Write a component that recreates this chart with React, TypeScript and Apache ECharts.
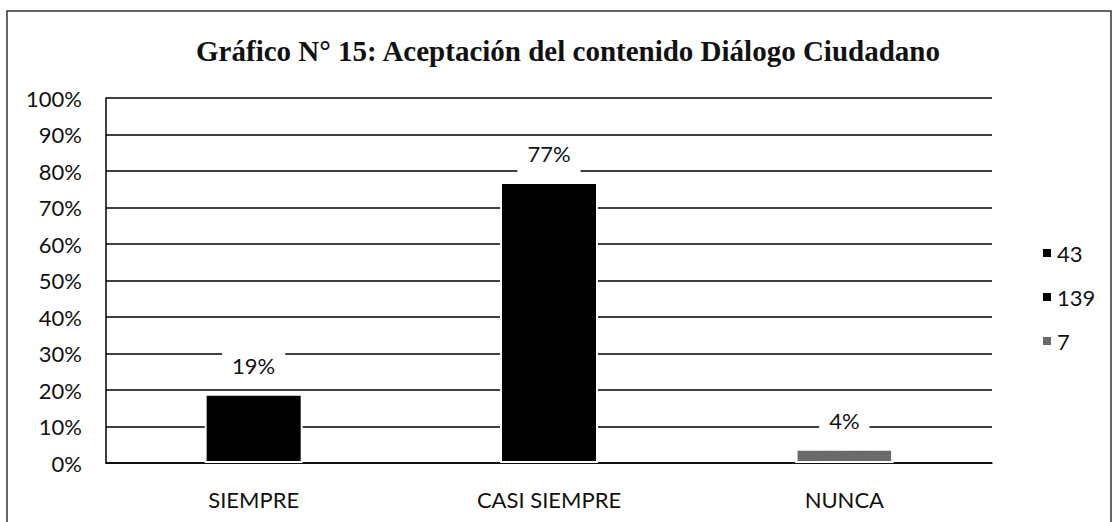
import React, { useEffect, useRef } from "react";
import * as echarts from "echarts";

const categories = ["SIEMPRE", "CASI SIEMPRE", "NUNCA"];
const seriesNames = ["43", "139", "7"];
const percentValues = [19, 77, 4];
const yTicks = [0, 10, 20, 30, 40, 50, 60, 70, 80, 90, 100];
const title = "Gráfico N° 15: Aceptación del contenido Diálogo Ciudadano";

export default function App() {
  const ref = useRef<HTMLDivElement>(null);
  useEffect(() => {
    if (!ref.current) return;
    const chart = echarts.init(ref.current, null, { renderer: "svg" });
    const colors = ["#000000", "#000000", "#666666"];
    const series = seriesNames.map((name, i) => ({
      name,
      type: "bar",
      barWidth: 98,
      barGap: "-100%",
      data: categories.map((_, j) => (j === i ? percentValues[j] : null)),
      itemStyle: {
        color: colors[i],
        borderColor: "#ffffff",
        borderWidth: 2,
        decal:
          i === 2
            ? {
                symbol: "rect",
                symbolSize: 0.7,
                color: "rgba(230,230,230,0.5)",
                dashArrayX: [1, 2],
                dashArrayY: [1, 1],
                rotation: 0.6,
              }
            : "none",
      },
      label: {
        show: true,
        position: "top",
        distance: 10,
        formatter: (p: any) => `${Math.round(p.value)}%`,
        fontFamily: "Lato",
        fontSize: 22,
        color: "#111",
        backgroundColor: "#ffffff",
        padding: [2, 10, 7, 10],
      },
    }));
    chart.setOption({
      animation: false,
      backgroundColor: "#ffffff",
      title: {
        text: title,
        left: 563,
        top: 31,
        textAlign: "center",
        textStyle: {
          fontFamily: "Liberation Serif",
          fontWeight: "bold",
          fontSize: 29,
          color: "#111",
        },
      },
      graphic: [
        {
          type: "rect",
          shape: { x: 7, y: 11, width: 1104, height: 530 },
          style: { fill: "none", stroke: "#333", lineWidth: 1.5 },
          silent: true,
        },
      ],
      legend: {
        orient: "vertical",
        left: 1036,
        top: 237,
        itemWidth: 10,
        itemHeight: 10,
        itemGap: 22,
        icon: "rect",
        textStyle: { fontFamily: "Lato", fontSize: 22, color: "#111" },
        data: seriesNames,
      },
      grid: { left: 106, right: 122, top: 98, bottom: 59 },
      xAxis: {
        type: "category",
        data: categories,
        axisLine: { lineStyle: { color: "#000", width: 1.5 } },
        axisTick: { show: false },
        axisLabel: {
          fontFamily: "Lato",
          fontSize: 22,
          color: "#111",
          margin: 25,
        },
      },
      yAxis: {
        type: "value",
        min: yTicks[0],
        max: yTicks[yTicks.length - 1],
        interval: 10,
        axisLine: { show: true, lineStyle: { color: "#000", width: 1.5 } },
        axisTick: { show: false },
        splitLine: { lineStyle: { color: "#000", width: 1.5 } },
        axisLabel: {
          formatter: "{value}%",
          fontFamily: "Lato",
          fontSize: 22,
          color: "#111",
          margin: 24,
        },
      },
      series,
    });
    return () => chart.dispose();
  }, []);
  return (
    <div
      ref={ref}
      style={{ position: "fixed", left: 0, top: 0, width: 1114, height: 522 }}
    />
  );
}
